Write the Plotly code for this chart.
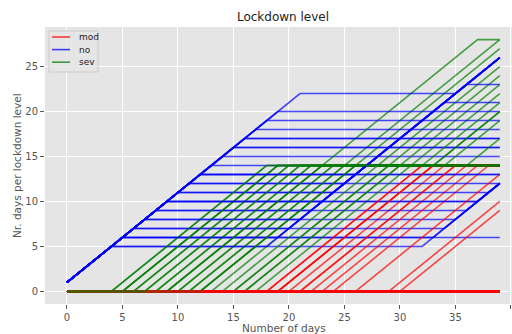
import numpy as np
import plotly.graph_objects as go

# Days on the x axis
days = list(range(40))

# Each scenario = sequence of phases: no -> sev -> mod -> no -> sev (days per phase)
first_open_days = [5, 6, 7, 8, 9, 10, 11, 6, 12, 13, 14, 15, 16, 17, 18, 10, 13, 16, 17, 19, 20, 22, 7, 9, 11, 12, 5, 6, 10, 13, 8]
first_sev_days  = [14, 14, 14, 14, 14, 14, 14, 14, 28, 27, 26, 25, 24, 23, 22, 28, 14, 14, 14, 0, 0, 0, 14, 14, 14, 14, 14, 14, 14, 14, 14]
mod_days        = [14, 14, 14, 14, 14, 14, 14, 14, 0, 0, 0, 0, 0, 0, 0, 0, 13, 10, 9, 14, 14, 14, 0, 0, 0, 0, 0, 0, 0, 0, 0]
second_open_days = [7, 6, 5, 4, 3, 2, 1, 0, 0, 0, 0, 0, 0, 0, 0, 2, 0, 0, 0, 7, 6, 4, 14, 14, 8, 8, 21, 20, 16, 13, 18]
second_sev_days = [0, 0, 0, 0, 0, 0, 0, 6, 0, 0, 0, 0, 0, 0, 0, 0, 0, 0, 0, 0, 0, 0, 5, 3, 7, 6, 0, 0, 0, 0, 0]

levels = ["mod", "no", "sev"]
level_colors = {"mod": "rgba(255,0,0,0.7)", "no": "rgba(0,0,255,0.7)", "sev": "rgba(0,128,0,0.7)"}
legend_colors = {"mod": "rgba(255,0,0,0.75)", "no": "rgba(0,0,255,0.75)", "sev": "rgba(0,128,0,0.75)"}

fig = go.Figure()
for i in range(len(first_open_days)):
    seq = (["no"] * first_open_days[i] + ["sev"] * first_sev_days[i] + ["mod"] * mod_days[i]
           + ["no"] * second_open_days[i] + ["sev"] * second_sev_days[i])
    seq = np.array(seq[:len(days)])
    for lv in levels:
        counts = np.cumsum(seq == lv)
        fig.add_trace(go.Scatter(
            x=days, y=counts, mode="lines", name=lv, legendgroup=lv,
            showlegend=False,
            line=dict(color=level_colors[lv], width=1.6),
            hoverinfo="skip"))

# Plot-area geometry in pixels (for the legend box and axis titles)
L, R, T, B = 45, 512, 27, 304
W, H = R - L, B - T
def px(x):
    return (x - L) / W
def py(y):
    return (B - y) / H

grid = dict(showgrid=True, gridcolor="white", gridwidth=1, zeroline=False, showline=False,
            automargin=False,
            ticks="outside", ticklen=4, tickcolor="#555555", tickwidth=1,
            tickfont=dict(family="DejaVu Sans", size=10, color="#555555"))

shapes = [dict(type="rect", xref="paper", yref="paper", x0=px(49), x1=px(98), y0=py(31), y1=py(72),
               fillcolor="rgba(229,229,229,0.8)", line=dict(color="#CCCCCC", width=1), layer="above")]
annotations = []
for j, lv in enumerate(levels):
    yy = 37 + j * 12.6
    shapes.append(dict(type="line", xref="paper", yref="paper", x0=px(52), x1=px(70), y0=py(yy), y1=py(yy),
                       line=dict(color=legend_colors[lv], width=1.6), layer="above"))
    annotations.append(dict(text=lv, xref="paper", yref="paper", x=px(77), y=py(yy),
                            xanchor="left", yanchor="middle", showarrow=False,
                            font=dict(family="DejaVu Sans", size=9, color="#222222")))
annotations.append(dict(text="Number of days", xref="paper", yref="paper", x=px(284), y=py(328),
                        xanchor="center", yanchor="middle", showarrow=False,
                        font=dict(family="DejaVu Sans", size=10.5, color="#555555")))
annotations.append(dict(text="Nr. days per lockdown level", xref="paper", yref="paper", x=px(17), y=py(166),
                        xanchor="center", yanchor="middle", showarrow=False, textangle=-90,
                        font=dict(family="DejaVu Sans", size=10.5, color="#555555")))

fig.update_layout(
    width=512, height=334,
    margin=dict(l=L, r=512 - R, t=T, b=334 - B),
    paper_bgcolor="white", plot_bgcolor="#E5E5E5",
    title=dict(text="Lockdown level", x=px(283), xref="paper", y=1 - 17 / 334, yref="container",
               xanchor="center", yanchor="middle",
               font=dict(family="DejaVu Sans", size=12, color="#222222")),
    xaxis=dict(range=[-1.98, 40.1], tickmode="array", tickvals=[0, 5, 10, 15, 20, 25, 30, 35, 40], **grid),
    yaxis=dict(range=[-1.4, 29.4], tickmode="array", tickvals=[0, 5, 10, 15, 20, 25], **grid),
    shapes=shapes,
    annotations=annotations,
    showlegend=False,
)

fig.write_html("out.html", config={"displayModeBar": False},
               post_script="document.body.style.margin='0px';")
